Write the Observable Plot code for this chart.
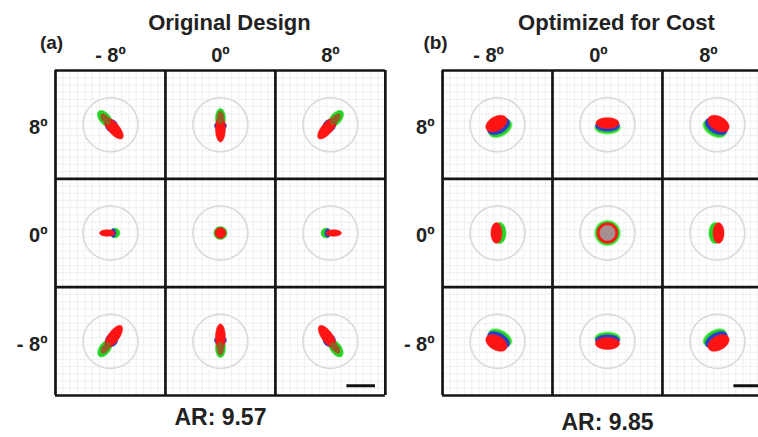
<!DOCTYPE html>
<html><head><meta charset="utf-8">
<script src="https://cdn.jsdelivr.net/npm/d3@7"></script>
<script src="https://cdn.jsdelivr.net/npm/@observablehq/plot@0.6"></script>
<style>body{margin:0;background:#fff;}</style>
</head><body><div id="chart"></div>
<script>
// ---- data ----
const panelTitles = ["Original Design", "Optimized for Cost"];
const panelTags = ["(a)", "(b)"];
const arLabels = ["AR: 9.57", "AR: 9.85"];
const fieldX = [-8, 0, 8];          // columns (deg)
const fieldY = [8, 0, -8];          // rows (deg)
const colLabels = ["- 8º", "0º", "8º"];
const rowLabels = ["8º", "0º", "- 8º"];
const airyRadius = 25;              // µm
const scaleBarLength = 26;          // µm
// spot ellipses: [fieldX, fieldY, layer, cx, cy, rx, ry, angle]  (µm, deg)
const spotsA = [
  [-8, 8, "blue", 1, -1, 6, 5.5, -50], [-8, 8, "green", -5, 5.5, 9, 5, -50], [-8, 8, "red", 3, -3.5, 12, 5, -50], [-8, 8, "olive", -4.5, 5, 6, 3, -50],
  [0, 8, "blue", 0, -1, 4, 5.5, 90], [0, 8, "green", 0, 6, 9, 4.5, 90], [0, 8, "red", 0, -4, 12, 4.5, 90], [0, 8, "olive", 0, 6.5, 6, 3, 90],
  [8, 8, "blue", -1, -1, 6, 5.5, 50], [8, 8, "green", 5, 5.5, 9, 5, 50], [8, 8, "red", -3, -3.5, 12, 5, 50], [8, 8, "olive", 4.5, 5, 6, 3, 50],
  [-8, 0, "green", 4, 0, 4.5, 4.5, 0], [-8, 0, "blue", 2.5, 0, 2.5, 4, 0], [-8, 0, "red", -3, 0, 7, 3, 0],
  [0, 0, "green", 0, 0, 6, 6, 0], [0, 0, "red", 0, 0, 5, 5, 0],
  [8, 0, "green", -4, 0, 4.5, 4.5, 0], [8, 0, "blue", -2.5, 0, 2.5, 4, 0], [8, 0, "red", 3, 0, 7, 3, 0],
  [-8, -8, "blue", 1, 1, 6, 5.5, 55], [-8, -8, "green", -5, -6.5, 9, 5, 55], [-8, -8, "red", 3, 4.5, 12, 5, 55], [-8, -8, "olive", -4.5, -6, 6, 3, 55],
  [0, -8, "blue", 0, 1, 4, 5.5, 90], [0, -8, "green", 0, -6, 9, 4.5, 90], [0, -8, "red", 0, 4, 12, 4.5, 90], [0, -8, "olive", 0, -6.5, 6, 3, 90],
  [8, -8, "blue", -1, 1, 6, 5.5, -55], [8, -8, "green", 5, -6.5, 9, 5, -55], [8, -8, "red", -3, 4.5, 12, 5, -55], [8, -8, "olive", 4.5, -6, 6, 3, -55]
];
const spotsB = [
  [-8, 8, "halo", 2.5, -3.5, 12, 7.5, 30], [-8, 8, "green", 2.5, -3.5, 11, 6.5, 30], [-8, 8, "blue", 1, -1.5, 11, 6.5, 30], [-8, 8, "red", -1, 1, 10.5, 6.5, 30],
  [0, 8, "halo", 0, -3, 12, 6, 0], [0, 8, "green", 0, -3, 11, 5, 0], [0, 8, "blue", 0, -1, 11, 5, 0], [0, 8, "red", 0, 1.5, 10.5, 5, 0],
  [8, 8, "halo", -2.5, -3.5, 12, 7.5, -30], [8, 8, "green", -2.5, -3.5, 11, 6.5, -30], [8, 8, "blue", -1, -1.5, 11, 6.5, -30], [8, 8, "red", 1, 1, 10.5, 6.5, -30],
  [-8, 0, "halo", 2, 0, 10, 6, 90], [-8, 0, "green", 2, 0, 9.5, 5.5, 90], [-8, 0, "red", -1, 0, 9.5, 5, 90],
  [0, 0, "halo", 0, 0, 12, 12, 0], [0, 0, "green", 0, 0, 11, 11, 0], [0, 0, "red", 0, 0, 9.5, 9.5, 0], [0, 0, "gray", 0, 0, 7, 7, 0],
  [8, 0, "halo", -2, 0, 10, 6, 90], [8, 0, "green", -2, 0, 9.5, 5.5, 90], [8, 0, "red", 1, 0, 9.5, 5, 90],
  [-8, -8, "halo", 2.5, 3.5, 12, 7, -30], [-8, -8, "green", 2.5, 3.5, 11, 6, -30], [-8, -8, "blue", 1, 1.5, 11, 6, -30], [-8, -8, "red", -1, -1.5, 10.5, 6.5, -30],
  [0, -8, "halo", 0, 3, 12, 6, 0], [0, -8, "green", 0, 3, 11, 5, 0], [0, -8, "blue", 0, 1, 11, 5, 0], [0, -8, "red", 0, -2, 11, 5.5, 0],
  [8, -8, "halo", -2.5, 3.5, 12, 7, 30], [8, -8, "green", -2.5, 3.5, 11, 6, 30], [8, -8, "blue", -1, 1.5, 11, 6, 30], [8, -8, "red", 1, -1.5, 10.5, 6.5, 30]
];

// ---- layout / style ----
const cell = 100;                 // µm per cell
const panelOffset = [0, 352];     // x offset of each panel (µm)
const layerColors = {halo: "#a9f2a2", green: "#26d426", blue: "#2a3ec8", red: "#ff1414", olive: "#955c24", gray: "#a58f8f"};
const layerOrder = ["halo", "green", "blue", "red", "olive", "gray"];

const colX = fx => fieldX.indexOf(fx) * cell;        // centre x within panel
const rowY = fy => (1 - fieldY.indexOf(fy)) * cell;  // centre y

function ellipsePts(id, cx, cy, rx, ry, ang, extra) {
  const a = ang * Math.PI / 180, n = 60, out = [];
  for (let k = 0; k < n; k++) {
    const t = 2 * Math.PI * k / n;
    const ex = rx * Math.cos(t), ey = ry * Math.sin(t);
    out.push({id, x: cx + ex * Math.cos(a) - ey * Math.sin(a), y: cy + ex * Math.sin(a) + ey * Math.cos(a), ...extra});
  }
  return out;
}

const ellipses = [];
[spotsA, spotsB].forEach((spots, p) => {
  spots.forEach((s, i) => {
    const [fx, fy, layer, cx, cy, rx, ry, ang] = s;
    ellipses.push(...ellipsePts(`${p}-${i}`, panelOffset[p] + colX(fx) + cx, rowY(fy) + cy, rx, ry, ang, {layer}));
  });
});

const circles = [];
panelOffset.forEach((off, p) => fieldY.forEach(fy => fieldX.forEach(fx =>
  circles.push(...ellipsePts(`c${p}${fx}${fy}`, off + colX(fx), rowY(fy), airyRadius, airyRadius, 0, {})))));

// minor grid & cell borders
const minorStep = cell / 15;
const minorV = [], minorH = [], borderV = [], borderH = [];
panelOffset.forEach(off => {
  d3.range(1, 45).filter(k => k % 15 !== 0).forEach(k => {
    minorV.push({x: off - cell / 2 + k * minorStep, y1: -1.5 * cell, y2: 1.5 * cell});
    minorH.push({y: -1.5 * cell + k * minorStep, x1: off - cell / 2, x2: off + 2.5 * cell});
  });
  d3.range(0, 4).forEach(k => {
    borderV.push({x: off - cell / 2 + k * cell, y1: -1.5 * cell, y2: 1.5 * cell});
    borderH.push({y: -1.5 * cell + k * cell, x1: off - cell / 2, x2: off + 2.5 * cell});
  });
});

const bars = panelOffset.map(off => ({x1: off + colX(8) + 41 - scaleBarLength, x2: off + colX(8) + 41, y: rowY(-8) - 41}));

const colText = [], rowText = [], titleText = [], tagText = [], arText = [];
panelOffset.forEach((off, p) => {
  fieldX.forEach((fx, i) => colText.push({x: off + colX(fx), label: colLabels[i], p}));
  fieldY.forEach((fy, i) => rowText.push({x: off - cell / 2, y: rowY(fy), label: rowLabels[i], p}));
  titleText.push({x: off + cell, label: panelTitles[p], p});
  tagText.push({x: off - cell / 2, label: panelTags[p], p});
  arText.push({x: off + cell, label: arLabels[p], p});
});

const font = "'Liberation Sans', Arial, sans-serif";
const txt = {fontWeight: "bold", fill: "#222", lineAnchor: "middle"};
const marks = [
  Plot.ruleX(minorV, {x: "x", y1: "y1", y2: "y2", stroke: "#ececec", strokeWidth: 0.8}),
  Plot.ruleY(minorH, {y: "y", x1: "x1", x2: "x2", stroke: "#ececec", strokeWidth: 0.8}),
  Plot.line(circles, {x: "x", y: "y", z: "id", curve: "linear-closed", stroke: "#dadada", strokeWidth: 1.6, fill: "none"}),
  ...layerOrder.map(layer => Plot.line(ellipses.filter(d => d.layer === layer), {
    x: "x", y: "y", z: "id", curve: "linear-closed", fill: layerColors[layer], stroke: layerColors[layer], strokeWidth: 0.5
  })),
  Plot.ruleX(borderV, {x: "x", y1: "y1", y2: "y2", stroke: "#151515", strokeWidth: 2.7}),
  Plot.ruleY(borderH, {y: "y", x1: "x1", x2: "x2", stroke: "#151515", strokeWidth: 2.7}),
  Plot.ruleY(bars, {y: "y", x1: "x1", x2: "x2", stroke: "#111", strokeWidth: 3}),
  Plot.text(titleText, {x: "x", text: "label", frameAnchor: "top", dy: -48, dx: 9, fontSize: 22, ...txt}),
  Plot.text(tagText.filter(d => d.p === 0), {x: "x", text: "label", frameAnchor: "top", dy: -28, dx: -4, fontSize: 19, ...txt}),
  Plot.text(tagText.filter(d => d.p === 1), {x: "x", text: "label", frameAnchor: "top", dy: -28, dx: -7, fontSize: 19, ...txt}),
  Plot.text(colText.filter(d => d.p === 0), {x: "x", text: "label", frameAnchor: "top", dy: -15, fontSize: 20, ...txt}),
  Plot.text(colText.filter(d => d.p === 1), {x: "x", text: "label", frameAnchor: "top", dy: -15, dx: -9, fontSize: 20, ...txt}),
  Plot.text(rowText, {x: "x", y: "y", text: "label", textAnchor: "end", dx: -8, dy: 3, fontSize: 20, ...txt}),
  Plot.text(arText.filter(d => d.p === 0), {x: "x", text: "label", frameAnchor: "bottom", dy: 22, fontSize: 23, ...txt}),
  Plot.text(arText.filter(d => d.p === 1), {x: "x", text: "label", frameAnchor: "bottom", dy: 27, fontSize: 23, ...txt})
];

const chart = Plot.plot({
  width: 758, height: 437,
  marginLeft: 55, marginRight: 0, marginTop: 70, marginBottom: 42,
  x: {domain: [-50, 603], range: [55, 773], axis: null},
  y: {domain: [-150, 150], range: [395, 70], axis: null},
  style: {fontFamily: font, background: "#fff", overflow: "hidden"},
  marks
});
document.getElementById("chart").appendChild(chart);
</script>
</body></html>
